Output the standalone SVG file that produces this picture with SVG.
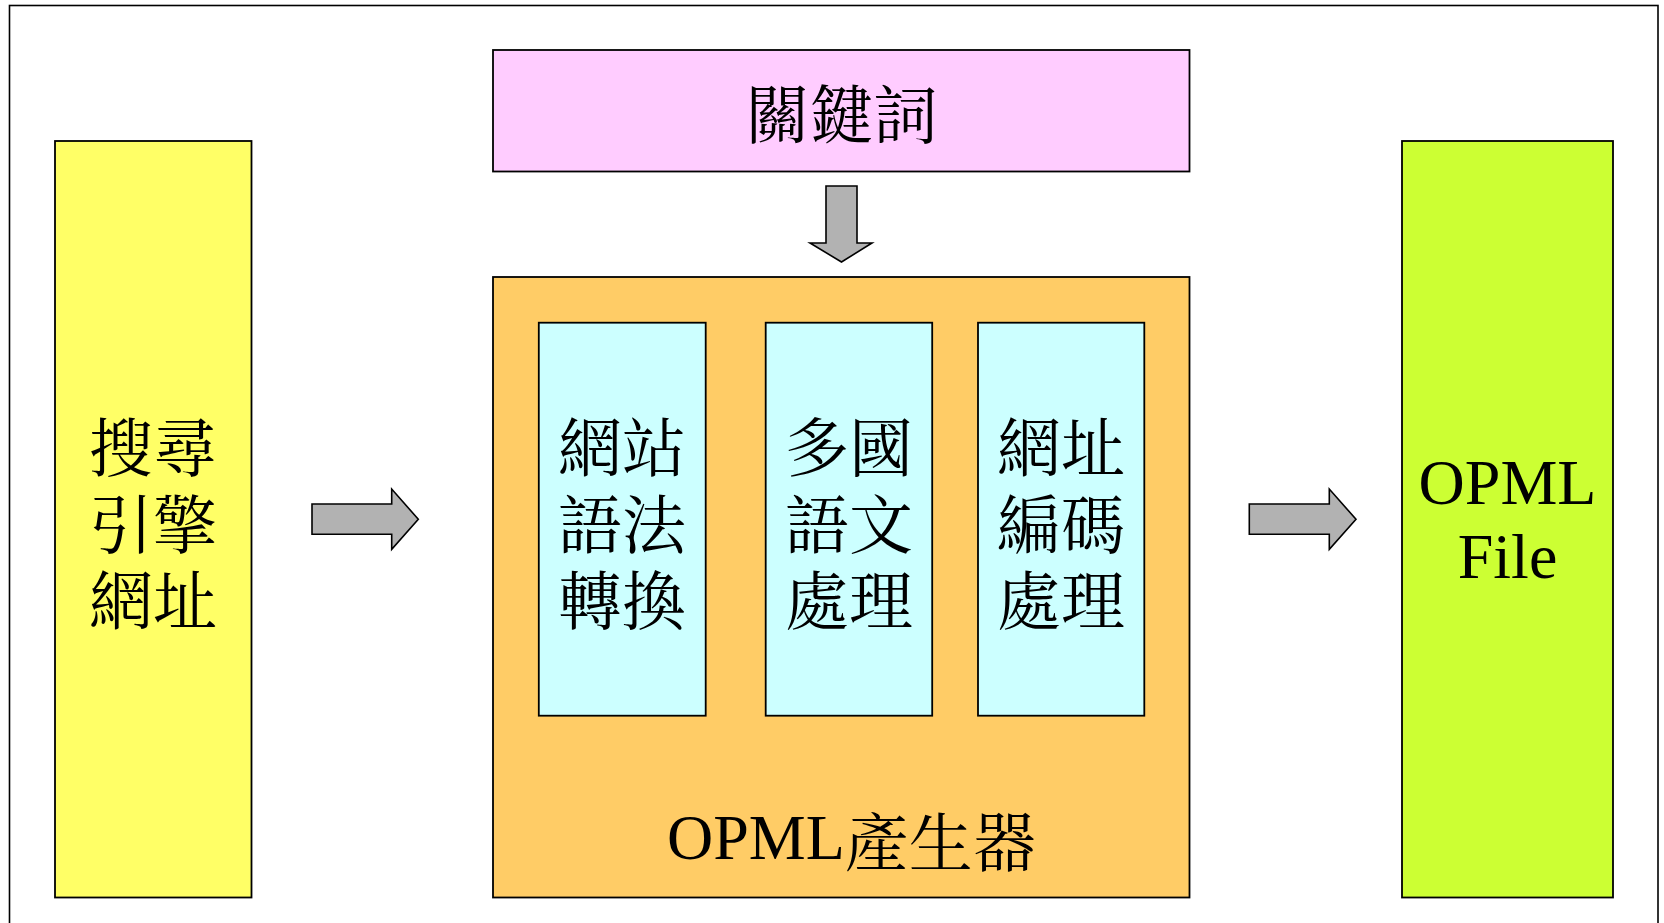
<svg xmlns="http://www.w3.org/2000/svg" width="1664" height="923" viewBox="0 0 1664 923">
<style>
.box{stroke:#000;stroke-width:1.8}
.arr{fill:#b2b2b2;stroke:#000;stroke-width:1.6;stroke-linejoin:miter}
.cj{font-family:"Liberation Serif","Noto Serif CJK TC","Noto Sans CJK TC",serif;font-size:64px;fill:#000;text-anchor:middle}
.lt{font-family:"Liberation Serif",serif;font-size:64px;fill:#000;text-anchor:middle}
</style>
<rect x="0" y="0" width="1664" height="923" fill="#fff"/>
<rect id="frame" x="9.5" y="5.5" width="1648.5" height="940" fill="none" stroke="#000" stroke-width="1.6"/>
<g id="search">
<rect class="box" x="55" y="141" width="196.5" height="756.5" fill="#ffff66"/>
<text class="cj" x="153" y="471">搜尋</text>
<text class="cj" x="153" y="548">引擎</text>
<text class="cj" x="153" y="624">網址</text>
</g>
<g id="keyword">
<rect class="box" x="493" y="50" width="696.5" height="121.5" fill="#ffccff"/>
<text class="cj" x="841.5" y="138">關鍵詞</text>
</g>
<g id="generator">
<rect class="box" x="493" y="277" width="696.5" height="620.5" fill="#ffcc66"/>
<text x="667" y="859" style="font-family:'Liberation Serif','Noto Sans CJK TC',serif;font-size:64px;fill:#000"><tspan>OPML</tspan><tspan style="font-family:'Noto Serif CJK TC','Noto Sans CJK TC',serif" dy="7">產生器</tspan></text>
</g>
<g id="syntax">
<rect class="box" x="538.8" y="322.7" width="166.9" height="393" fill="#ccffff"/>
<text class="cj" x="622" y="471">網站</text>
<text class="cj" x="622" y="548">語法</text>
<text class="cj" x="622" y="624">轉換</text>
</g>
<g id="multilang">
<rect class="box" x="765.7" y="322.7" width="166.5" height="393" fill="#ccffff"/>
<text class="cj" x="849" y="471">多國</text>
<text class="cj" x="849" y="548">語文</text>
<text class="cj" x="849" y="624">處理</text>
</g>
<g id="urlenc">
<rect class="box" x="978" y="322.7" width="166.3" height="393" fill="#ccffff"/>
<text class="cj" x="1061" y="471">網址</text>
<text class="cj" x="1061" y="548">編碼</text>
<text class="cj" x="1061" y="624">處理</text>
</g>
<g id="opmlfile">
<rect class="box" x="1402" y="141" width="211" height="756.5" fill="#ccff33"/>
<text class="lt" x="1507.5" y="504">OPML</text>
<text class="lt" x="1507.5" y="578">File</text>
</g>
<g id="connectors">
<polygon class="arr" points="826,186 857,186 857,243 872,243 841.5,262 810,243 826,243"/>
<polygon class="arr" points="312,504 391.7,504 391.7,489 418.3,519.3 391.7,549.3 391.7,534.3 312,534.3"/>
<polygon class="arr" points="1249.3,504 1329.3,504 1329.3,489 1356,519.3 1329.3,549.3 1329.3,534.3 1249.3,534.3"/>
</g>
</svg>
